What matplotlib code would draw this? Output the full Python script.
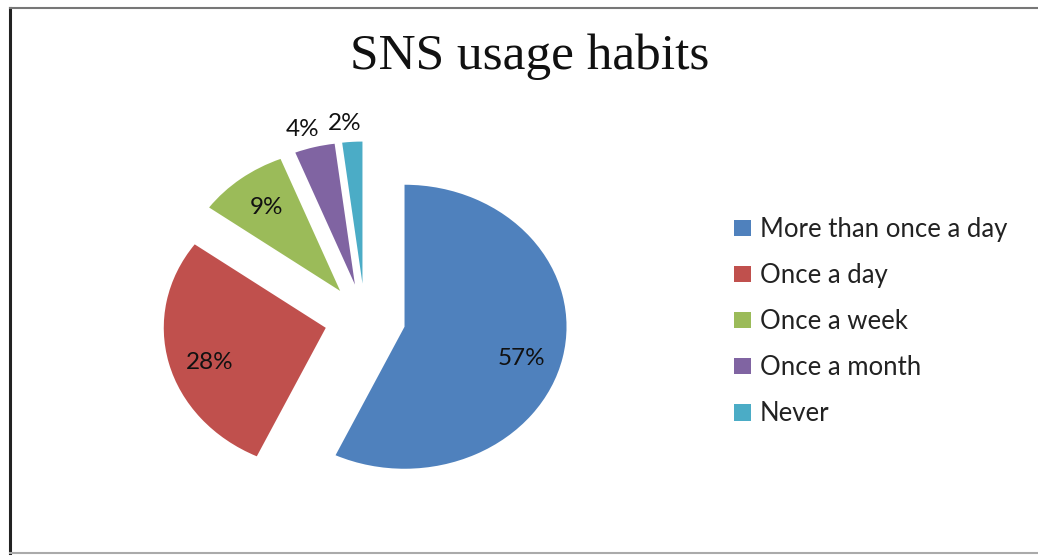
import matplotlib
matplotlib.use('Agg')
import matplotlib.pyplot as plt
from matplotlib.lines import Line2D
from matplotlib.patches import Patch
import numpy as np

# 回答データ
categories = ['More than once a day', 'Once a day', 'Once a week', 'Once a month', 'Never']
shares = [57, 28, 9, 4, 2]
colors = ['#4F81BD', '#C0504D', '#9BBB59', '#8064A2', '#4BACC6']

W, H = 1038, 556
fig = plt.figure(figsize=(W / 100, H / 100), dpi=100)
fig.patch.set_facecolor('white')

# 円の中心 (365, 319)px、横半径162px・縦半径142px になるよう軸を置く
lim = 1.6
rx, ry = 162, 142
cx, cy = 365, 319
aw, ah = 2 * lim * rx, 2 * lim * ry
ax = fig.add_axes([(cx - aw / 2) / W, (H - cy - ah / 2) / H, aw / W, ah / H])

wedges, texts, autotexts = ax.pie(
    shares, colors=colors, explode=[0.25] * len(shares),
    startangle=90, counterclock=False,
    autopct='%1.0f%%', pctdistance=0.74,
    wedgeprops=dict(linewidth=0),
    textprops=dict(family='Lato', fontsize=17.5, color='#111111'))
ax.set_aspect('auto')
ax.set_xlim(-lim, lim)
ax.set_ylim(-lim, lim)

# ラベル位置の調整 (大きい扇形は少し下、小さい扇形は外側へ)
for w, t, v in zip(wedges, autotexts, shares):
    ang = np.deg2rad((w.theta1 + w.theta2) / 2)
    x0, y0 = w.center
    if v < 5:
        t.set_position((x0 + 1.13 * np.cos(ang) - 0.04, y0 + 1.13 * np.sin(ang)))
    elif v > 20:
        x, y = t.get_position()
        t.set_position((x, y - 0.06))

# タイトル
fig.text(530 / W, 1 - 57 / H, 'SNS usage habits', family='Liberation Serif',
         fontsize=37, ha='center', va='center', color='#111111')

# 凡例
handles = [Patch(facecolor=c, edgecolor='none') for c in colors]
fig.legend(handles, categories, loc='upper left', bbox_to_anchor=(711 / W, 1 - 194 / H),
           frameon=False, prop=dict(family='Lato', size=18.5),
           handlelength=0.65, handleheight=0.6, handletextpad=0.35,
           labelspacing=0.82, labelcolor='#222222')

# 外枠
fig.add_artist(Line2D([10 / W, 10 / W], [1 - 8 / H, 1 - 553 / H], color='#222222', lw=2.2))
fig.add_artist(Line2D([10 / W, 1], [1 - 8 / H, 1 - 8 / H], color='#777777', lw=1.5))
fig.add_artist(Line2D([10 / W, 1], [1 - 553 / H, 1 - 553 / H], color='#aaaaaa', lw=1.5))

fig.savefig('out.png', dpi=100)
